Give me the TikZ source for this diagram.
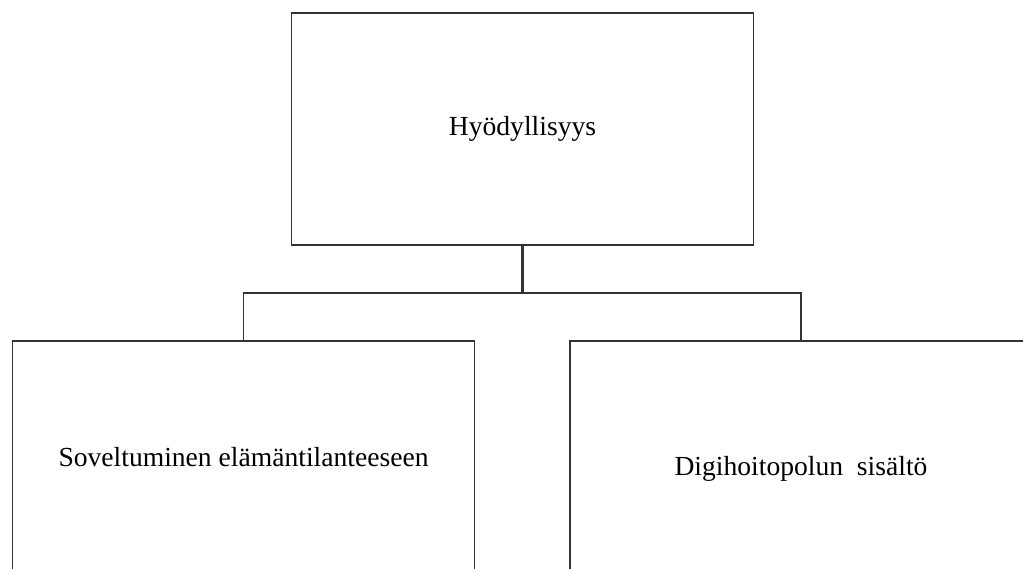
\documentclass[tikz,border=0pt]{standalone}
\usepackage{fontspec}
\setmainfont{Liberation Serif}
\usepackage{tikz}
\tikzstyle{box} = [draw=black!80,line width=0.8pt,rectangle,minimum width=9.24cm,minimum height=4.64cm,inner sep=0pt,font=\fontsize{15.7}{19}\selectfont]
\tikzstyle{link} = [draw=black!80,line width=0.8pt]

\begin{document}
\begin{tikzpicture}[x=0.02cm,y=-0.02cm]

\useasboundingbox (0,0) rectangle (1023,568);
\clip (0,0) rectangle (1023,568);

\node[box] (n1) at (522.5,129) {Hyödyllisyys};
\node[box] (n2) at (243.5,457) {Soveltuminen elämäntilanteeseen};
\node[box,text height=0.75cm,text depth=0.03cm] (n3) at (801,457) {Digihoitopolun\ \ sisältö};

\coordinate (j) at (522.5,293);
\draw[link,line width=1.3pt] (n1) -- (j);
\draw[link] (n2.north) |- (j) -| (n3.north);

\end{tikzpicture}
\end{document}
